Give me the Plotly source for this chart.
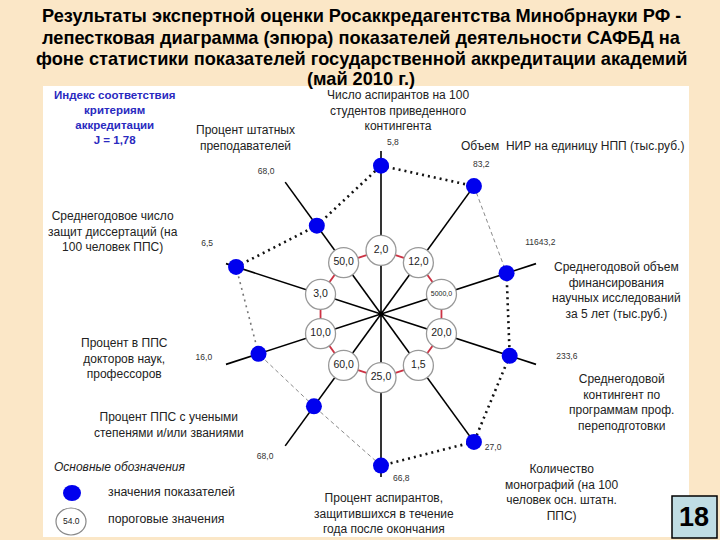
import plotly.graph_objects as go

# ---------------- data ----------------
indicators = [
    "Число аспирантов на 100<br>студентов приведенного<br>контингента",
    "Объем  НИР на единицу НПП (тыс.руб.)",
    "Среднегодовой объем<br>финансирования<br>научных исследований<br>за 5 лет (тыс.руб.)",
    "Среднегодовой<br>контингент по<br>программам проф.<br>переподготовки",
    "Количество<br>монографий (на 100<br>человек осн. штатн.<br>ППС)",
    "Процент аспирантов,<br>защитившихся в течение<br>года после окончания",
    "Процент ППС с учеными<br>степенями и/или званиями",
    "Процент в ППС<br>докторов наук,<br>профессоров",
    "Среднегодовое число<br>защит диссертаций (на<br>100 человек ППС)",
    "Процент штатных<br>преподавателей",
]
values = [5.8, 83.2, 11643.2, 233.6, 27.0, 66.8, 68.0, 16.0, 6.5, 68.0]
thresholds = [2.0, 12.0, 5000.0, 20.0, 1.5, 25.0, 60.0, 10.0, 3.0, 50.0]
# position of each value on its own (individually scaled) axis, axis length = 1
value_position = [0.91, 0.97, 0.81, 0.83, 0.97, 0.93, 0.70, 0.79, 0.935, 0.67]
threshold_position = 0.39
index_J = 1.78

title_lines = [
    "Результаты экспертной оценки Росаккредагентства Минобрнауки РФ -",
    "лепестковая диаграмма (эпюра) показателей деятельности САФБД на",
    "фоне статистики показателей государственной аккредитации академий",
    "(май 2010 г.)",
]
slide_number = "18"

# ---------------- layout helpers ----------------
W, H = 720, 540
n = len(values)
theta = [i * 360 / n for i in range(n)]
FONT = "Liberation Sans, Arial, sans-serif"

def fmt(v):
    return f"{v:.1f}".replace(".", ",")

def px(x):
    return x / W

def py(y):
    return 1 - y / H

CX, CY, R_AXIS, R_MAX = 381, 314, 163, 1.25
rpx = R_AXIS * R_MAX

# positions of value labels (polar: radius, angle)
label_r = [1.05, 1.10, 1.07, 1.17, 1.07, 1.02, 1.13, 1.12, 1.15, 1.12]
label_t = [4, 34, 66, 103, 140, 173, 219, 256, 292, 321]
# axis-name label block centres (px)
name_pos = [(398, 111), (572, 146), (616, 290), (621, 402), (562, 492),
            (384, 513), (169, 425), (124, 358), (113, 231), (245, 138)]
title_y = [16, 38, 59.5, 79]
seg_style = ["dark", "gray", "dark", "dark", "dark", "gray", "gray", "grayd", "dark", "dark"]
styles = {
    "dark": dict(color="#111111", width=2.6, dash="2px,4px"),
    "gray": dict(color="#8a8a8a", width=1, dash="4px,3px"),
    "grayd": dict(color="#777777", width=1.6, dash="2px,4px"),
}

fig = go.Figure()

# spokes
for t in theta:
    fig.add_trace(go.Scatterpolar(r=[0, 1], theta=[t, t], mode="lines",
                                  line=dict(color="black", width=1.6),
                                  hoverinfo="skip", showlegend=False))
# red threshold polygon
fig.add_trace(go.Scatterpolar(r=[threshold_position] * (n + 1), theta=theta + [theta[0]],
                              mode="lines", line=dict(color="#cc3344", width=1.8),
                              hoverinfo="skip", showlegend=False))
# centre dot
fig.add_trace(go.Scatterpolar(r=[0], theta=[0], mode="markers",
                              marker=dict(color="black", size=5), showlegend=False))
# threshold circles
fig.add_trace(go.Scatterpolar(
    r=[threshold_position] * n, theta=theta, mode="markers+text",
    marker=dict(size=30, color="white", line=dict(color="#999999", width=1.3)),
    text=[fmt(v) for v in thresholds], textposition="middle center",
    textfont=dict(family=FONT, size=[7 if v >= 1000 else 10.5 for v in thresholds], color="#222222"),
    cliponaxis=False, showlegend=False))
# polygon of values
for i in range(n):
    j = (i + 1) % n
    fig.add_trace(go.Scatterpolar(r=[value_position[i], value_position[j]],
                                  theta=[theta[i], theta[j]], mode="lines",
                                  line=styles[seg_style[i]], hoverinfo="skip",
                                  showlegend=False))
# value markers
fig.add_trace(go.Scatterpolar(r=value_position, theta=theta, mode="markers",
                              marker=dict(size=16, color="#0000ee"),
                              cliponaxis=False, showlegend=False))
# value labels
fig.add_trace(go.Scatterpolar(r=label_r, theta=label_t, mode="text",
                              text=[fmt(v) for v in values], textposition="middle center",
                              textfont=dict(family=FONT, size=8.5, color="#333333"),
                              cliponaxis=False, showlegend=False))

annotations = []
for line, y in zip(title_lines, title_y):
    annotations.append(dict(x=px(361), y=py(y), xref="paper", yref="paper",
                            text="<b>" + line + "</b>", showarrow=False,
                            xanchor="center", yanchor="middle",
                            font=dict(family=FONT, size=18.2, color="black")))
for name, (x, y) in zip(indicators, name_pos):
    annotations.append(dict(x=px(x), y=py(y), xref="paper", yref="paper", text=name,
                            showarrow=False, xanchor="center", yanchor="middle",
                            font=dict(family=FONT, size=12, color="#222222")))
annotations.append(dict(x=px(115), y=py(117), xref="paper", yref="paper",
                        text="<b>Индекс соответствия<br>критериям<br>аккредитации<br>J = "
                             + f"{index_J:.2f}".replace(".", ",") + "</b>",
                        showarrow=False, xanchor="center", yanchor="middle",
                        font=dict(family=FONT, size=11.5, color="#2a2ac0")))
annotations.append(dict(x=px(52), y=py(467), xref="paper", yref="paper",
                        text="<i>Основные обозначения</i>", showarrow=False,
                        xanchor="left", yanchor="middle",
                        font=dict(family=FONT, size=12, color="#222222")))
annotations.append(dict(x=px(106), y=py(492), xref="paper", yref="paper",
                        text="значения показателей", showarrow=False, xanchor="left", yanchor="middle",
                        font=dict(family=FONT, size=12.3, color="#222222")))
annotations.append(dict(x=px(106), y=py(519), xref="paper", yref="paper",
                        text="пороговые значения", showarrow=False, xanchor="left", yanchor="middle",
                        font=dict(family=FONT, size=12.3, color="#222222")))
annotations.append(dict(x=px(71), y=py(521), xref="paper", yref="paper",
                        text="54.0", showarrow=False, xanchor="center", yanchor="middle",
                        font=dict(family=FONT, size=8.5, color="#222222")))
annotations.append(dict(x=px(694), y=py(517), xref="paper", yref="paper",
                        text="<b>" + slide_number + "</b>", showarrow=False,
                        xanchor="center", yanchor="middle",
                        font=dict(family=FONT, size=27, color="black")))

shapes = [
    dict(type="rect", xref="paper", yref="paper", x0=px(43), x1=px(689), y0=py(537), y1=py(86),
         fillcolor="white", line=dict(width=0), layer="below"),
    dict(type="circle", xref="paper", yref="paper", x0=px(63), x1=px(81), y0=py(501), y1=py(485),
         fillcolor="#0000ee", line=dict(width=0)),
    dict(type="circle", xref="paper", yref="paper", x0=px(56), x1=px(86), y0=py(535), y1=py(508),
         fillcolor="rgba(0,0,0,0)", line=dict(color="#888888", width=1.2)),
    dict(type="rect", xref="paper", yref="paper", x0=px(672), x1=px(717), y0=py(538), y1=py(496),
         fillcolor="#c0dde4", line=dict(color="black", width=1.5)),
]

fig.update_layout(
    width=W, height=H,
    margin=dict(l=0, r=0, t=0, b=0),
    paper_bgcolor="#fbe7c7",
    polar=dict(
        domain=dict(x=[(CX - rpx) / W, (CX + rpx) / W],
                    y=[1 - (CY + rpx) / H, 1 - (CY - rpx) / H]),
        bgcolor="rgba(0,0,0,0)",
        radialaxis=dict(range=[0, R_MAX], visible=False),
        angularaxis=dict(visible=False, rotation=90, direction="clockwise"),
    ),
    annotations=annotations,
    shapes=shapes,
    showlegend=False,
)

fig.write_html("out.html", config={"displayModeBar": False},
               post_script="document.body.style.margin='0';document.body.style.overflow='hidden';")
